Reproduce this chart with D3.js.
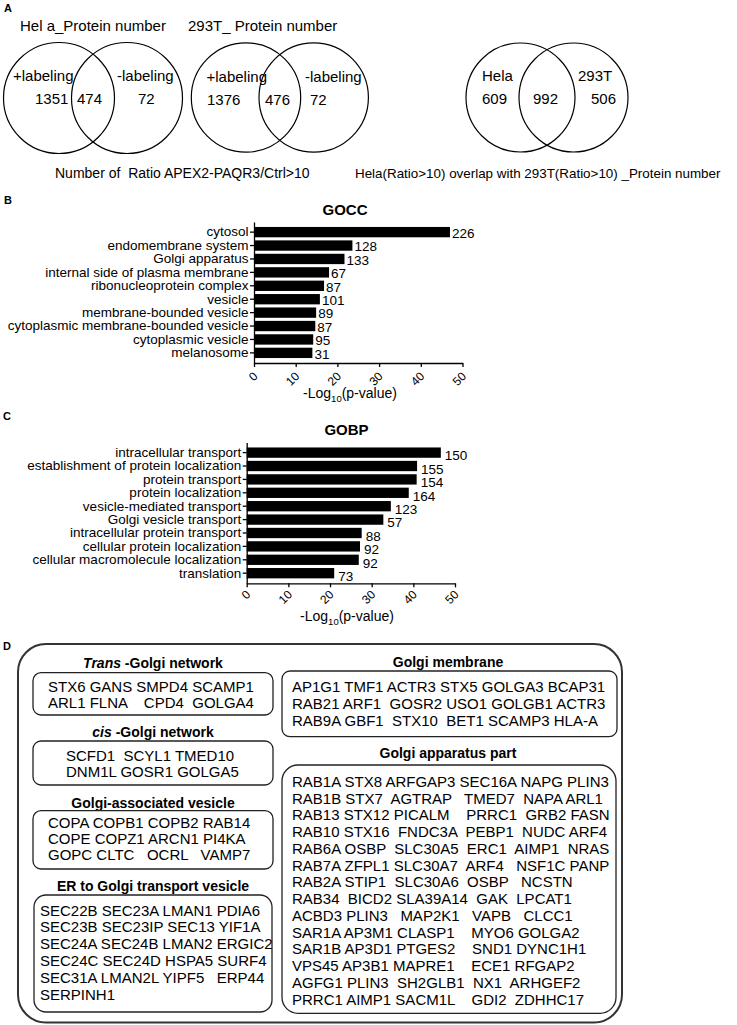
<!DOCTYPE html>
<html><head><meta charset="utf-8">
<script src="https://cdn.jsdelivr.net/npm/d3@7"></script>
<style>
body{margin:0;background:#fff}
svg text{font-family:"Liberation Sans",Arial,Helvetica,sans-serif;fill:#000}
</style>
</head><body>
<svg id="chart" width="737" height="1025"></svg>
<script>
// ---------------- DATA ----------------
const vennTitles = ["Hel a_Protein number", "293T_ Protein number"];
const vennHelaLabels = ["+labeling", "-labeling"];
const vennHelaCounts = [1351, 474, 72];
const venn293Labels = ["+labeling", "-labeling"];
const venn293Counts = [1376, 476, 72];
const vennOverlapLabels = ["Hela", "293T"];
const vennOverlapCounts = [609, 992, 506];
const vennCaptions = ["Number of  Ratio APEX2-PAQR3/Ctrl>10",
                      "Hela(Ratio>10) overlap with 293T(Ratio>10) _Protein number"];

const goccTerms = ["cytosol", "endomembrane system", "Golgi apparatus",
  "internal side of plasma membrane", "ribonucleoprotein complex", "vesicle",
  "membrane-bounded vesicle", "cytoplasmic membrane-bounded vesicle",
  "cytoplasmic vesicle", "melanosome"];
const goccValues = [47.0, 23.6, 21.7, 18.0, 16.8, 15.8, 14.9, 14.7, 14.2, 14.0];
const goccCounts = [226, 128, 133, 67, 87, 101, 89, 87, 95, 31];

const gobpTerms = ["intracellular transport", "establishment of protein localization",
  "protein transport", "protein localization", "vesicle-mediated transport",
  "Golgi vesicle transport", "intracellular protein transport",
  "cellular protein localization", "cellular macromolecule localization", "translation"];
const gobpValues = [46.6, 40.9, 40.8, 38.9, 34.6, 32.8, 27.6, 27.2, 26.9, 21.0];
const gobpCounts = [150, 155, 154, 164, 123, 57, 88, 92, 92, 73];

const xTickValues = [0, 10, 20, 30, 40, 50];

const transGolgi = ["STX6 GANS SMPD4 SCAMP1", "ARL1 FLNA    CPD4  GOLGA4"];
const cisGolgi = ["SCFD1  SCYL1 TMED10", "DNM1L GOSR1 GOLGA5"];
const golgiVesicle = ["COPA COPB1 COPB2 RAB14", "COPE COPZ1 ARCN1 PI4KA", "GOPC CLTC   OCRL   VAMP7"];
const erGolgi = ["SEC22B SEC23A LMAN1 PDIA6", "SEC23B SEC23IP SEC13 YIF1A",
  "SEC24A SEC24B LMAN2 ERGIC2", "SEC24C SEC24D HSPA5 SURF4",
  "SEC31A LMAN2L YIPF5   ERP44", "SERPINH1"];
const golgiMembrane = ["AP1G1 TMF1 ACTR3 STX5 GOLGA3 BCAP31",
  "RAB21 ARF1  GOSR2 USO1 GOLGB1 ACTR3",
  "RAB9A GBF1  STX10  BET1 SCAMP3 HLA-A"];
const golgiPart = ["RAB1A STX8 ARFGAP3 SEC16A NAPG PLIN3",
  "RAB1B STX7  AGTRAP   TMED7  NAPA ARL1",
  "RAB13 STX12 PICALM    PRRC1  GRB2 FASN",
  "RAB10 STX16  FNDC3A  PEBP1  NUDC ARF4",
  "RAB6A OSBP  SLC30A5  ERC1  AIMP1  NRAS",
  "RAB7A ZFPL1 SLC30A7  ARF4   NSF1C PANP",
  "RAB2A STIP1  SLC30A6  OSBP   NCSTN",
  "RAB34  BICD2 SLA39A14  GAK  LPCAT1",
  "ACBD3 PLIN3   MAP2K1   VAPB   CLCC1",
  "SAR1A AP3M1 CLASP1    MYO6 GOLGA2",
  "SAR1B AP3D1 PTGES2    SND1 DYNC1H1",
  "VPS45 AP3B1 MAPRE1    ECE1 RFGAP2",
  "AGFG1 PLIN3  SH2GLB1  NX1  ARHGEF2",
  "PRRC1 AIMP1 SACM1L    GDI2  ZDHHC17"];

// ---------------- DRAW ----------------
const svg = d3.select("#chart");

function panelLetter(t, x, y) {
  svg.append("text").attr("x", x).attr("y", y).attr("font-size", 11)
    .attr("font-weight", "bold").text(t);
}

// ---- Panel A ----
panelLetter("A", 4, 12);
svg.append("text").attr("x", 20).attr("y", 31).attr("font-size", 15)
  .style("white-space", "pre").text(vennTitles[0]);
svg.append("text").attr("x", 188).attr("y", 31).attr("font-size", 15)
  .style("white-space", "pre").text(vennTitles[1]);

function venn(cfg, labels, counts) {
  const g = svg.append("g");
  cfg.cx.forEach(cx => {
    g.append("circle").attr("cx", cx).attr("cy", cfg.cy).attr("r", cfg.r)
      .attr("fill", "none").attr("stroke", "#000").attr("stroke-width", 1.2);
  });
  labels.forEach((l, i) => {
    g.append("text").attr("x", cfg.lx[i]).attr("y", cfg.ly).attr("font-size", 15).text(l);
  });
  counts.forEach((c, i) => {
    g.append("text").attr("x", cfg.nx[i]).attr("y", cfg.ny).attr("font-size", 15).text(c);
  });
}
venn({cx: [59, 127], cy: 98, r: 55.5, lx: [13, 117], ly: 81, nx: [35, 77, 138], ny: 104},
  vennHelaLabels, vennHelaCounts);
venn({cx: [246, 313.7], cy: 97.5, r: 54.7, lx: [206.5, 305], ly: 81.5, nx: [207, 265, 310], ny: 104.5},
  venn293Labels, venn293Counts);
venn({cx: [520.5, 573.5], cy: 97.5, r: 54.5, lx: [482, 578], ly: 81, nx: [482, 533, 591], ny: 104},
  vennOverlapLabels, vennOverlapCounts);

svg.append("text").attr("x", 55).attr("y", 178).attr("font-size", 14)
  .style("white-space", "pre").text(vennCaptions[0]);
svg.append("text").attr("x", 355).attr("y", 178).attr("font-size", 13.4)
  .style("white-space", "pre").text(vennCaptions[1]);

// ---- Bar charts ----
function barChart(cfg, terms, values, counts) {
  const g = svg.append("g");
  const x = d3.scaleLinear().domain([0, 50]).range([cfg.x0, cfg.x1]);
  const y = d3.scaleBand().domain(terms).range([cfg.yTop, cfg.yBot])
    .paddingInner(0.23).paddingOuter(0.37);

  g.selectAll("rect.bar").data(terms).join("rect").attr("class", "bar")
    .attr("x", x(0)).attr("y", d => y(d))
    .attr("width", (d, i) => x(values[i]) - x(0))
    .attr("height", y.bandwidth()).attr("fill", "#000");

  g.selectAll("text.cnt").data(terms).join("text").attr("class", "cnt")
    .attr("x", (d, i) => x(values[i]) + cfg.dx)
    .attr("y", d => y(d) + y.bandwidth() / 2 + cfg.dy)
    .attr("dy", "0.36em").attr("font-size", 13.5)
    .text((d, i) => counts[i]);

  const ya = g.append("g").attr("transform", `translate(${x(0)},0)`)
    .call(d3.axisLeft(y).tickSize(4).tickSizeOuter(0).tickPadding(1.5));
  ya.selectAll("text").attr("font-size", 13.5).attr("font-family", null).attr("fill", "#000");

  const xa = g.append("g").attr("transform", `translate(0,${cfg.yBot})`)
    .call(d3.axisBottom(x).tickValues(xTickValues).tickSize(4).tickSizeOuter(0));
  xa.selectAll("text").attr("font-size", 12).attr("font-family", null)
    .attr("x", null).attr("y", null).attr("dy", null)
    .attr("text-anchor", "end")
    .attr("transform", `translate(4,${cfg.tickLabY}) rotate(-45)`);
  [ya, xa].forEach(a => {
    a.selectAll("path,line").attr("stroke", "#000").attr("stroke-width", 1.3);
  });

  g.append("text").attr("x", cfg.titleX).attr("y", cfg.titleY)
    .attr("text-anchor", "middle").attr("font-size", 15).attr("font-weight", "bold")
    .text(cfg.title);
  const xt = g.append("text").attr("x", cfg.xTitleX).attr("y", cfg.xTitleY)
    .attr("text-anchor", "middle").attr("font-size", 14);
  xt.append("tspan").text("-Log");
  xt.append("tspan").attr("font-size", 9.5).attr("dy", 3.5).text("10");
  xt.append("tspan").attr("dy", -3.5).text("(p-value)");
}

panelLetter("B", 4, 203.5);
barChart({x0: 254, x1: 462.5, yTop: 222, yBot: 363, dx: 2, dy: 1,
  tickLabY: 14, title: "GOCC", titleX: 345, titleY: 215, xTitleX: 350, xTitleY: 398},
  goccTerms, goccValues, goccCounts);

panelLetter("C", 3, 420);
barChart({x0: 246.7, x1: 455, yTop: 442.5, yBot: 583.3, dx: 4, dy: 3,
  tickLabY: 12, title: "GOBP", titleX: 346.5, titleY: 435, xTitleX: 347, xTitleY: 621},
  gobpTerms, gobpValues, gobpCounts);

// ---- Panel D ----
panelLetter("D", 3, 650);
svg.append("rect").attr("x", 18).attr("y", 644).attr("width", 604).attr("height", 378.5)
  .attr("rx", 28).attr("ry", 28).attr("fill", "none").attr("stroke", "#333").attr("stroke-width", 2);

function geneBox(box, lines, textX, firstBase, step) {
  svg.append("rect").attr("x", box[0]).attr("y", box[1])
    .attr("width", box[2] - box[0]).attr("height", box[3] - box[1])
    .attr("rx", box[4]).attr("ry", box[4]).attr("fill", "none")
    .attr("stroke", "#222").attr("stroke-width", 1.3);
  svg.append("g").selectAll("text").data(lines).join("text")
    .attr("x", textX).attr("y", (d, i) => firstBase + i * step)
    .attr("font-size", 15).style("white-space", "pre").text(d => d);
}
function boxTitle(x, y, parts) {
  const t = svg.append("text").attr("x", x).attr("y", y).attr("text-anchor", "middle")
    .attr("font-size", 14).attr("font-weight", "bold").style("white-space", "pre");
  parts.forEach(p => t.append("tspan").attr("font-style", p[1] ? "italic" : null).text(p[0]));
}

boxTitle(153, 668, [["Trans", true], [" -Golgi network", false]]);
geneBox([33, 672.7, 273, 715, 8], transGolgi, 48, 691.5, 16.6);
boxTitle(153, 736.7, [["cis", true], [" -Golgi network", false]]);
geneBox([33, 741, 273, 785, 8], cisGolgi, 66, 760.5, 16.2);
boxTitle(153, 807.7, [["Golgi-associated vesicle", false]]);
geneBox([33, 810.7, 273, 869, 8], golgiVesicle, 48, 828, 15.8);
boxTitle(153, 891, [["ER to Golgi transport vesicle", false]]);
geneBox([34, 895, 272, 1012, 12], erGolgi, 40, 915.5, 16.8);

boxTitle(448, 667, [["Golgi membrane", false]]);
geneBox([282, 671, 617, 736.7, 8], golgiMembrane, 292, 692, 16.8);
boxTitle(448, 758.3, [["Golgi apparatus part", false]]);
geneBox([282, 765, 616, 1013.3, 16], golgiPart, 292, 787, 16.74);
</script>
</body></html>
